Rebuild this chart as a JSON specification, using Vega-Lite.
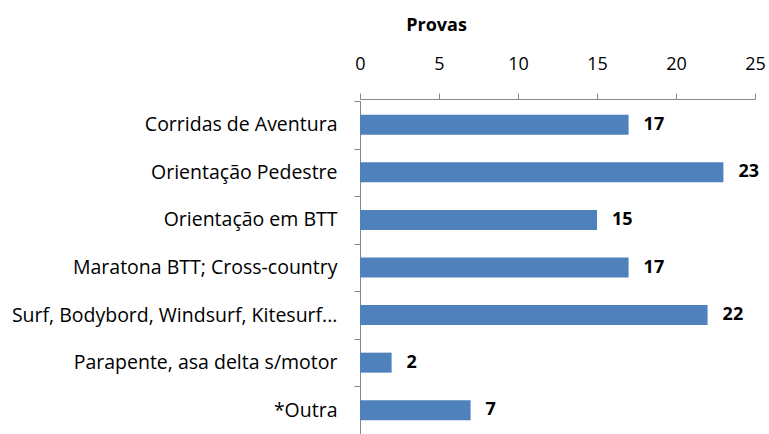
{
  "$schema": "https://vega.github.io/schema/vega-lite/v6.json",
  "autosize": {"type": "none"},
  "padding": {"left": 360, "top": 101, "right": 14, "bottom": 0},
  "width": 395,
  "height": 333,
  "background": "white",
  "config": {"view": {"stroke": null}, "font": "Open Sans"},
  "data": {"values": [
    {"categoria": "Corridas de Aventura", "provas": 17},
    {"categoria": "Orientação Pedestre", "provas": 23},
    {"categoria": "Orientação em BTT", "provas": 15},
    {"categoria": "Maratona BTT; Cross-country", "provas": 17},
    {"categoria": "Surf, Bodybord, Windsurf, Kitesurf...", "provas": 22},
    {"categoria": "Parapente, asa delta s/motor", "provas": 2},
    {"categoria": "*Outra", "provas": 7}
  ]},
  "encoding": {
    "y": {
      "field": "categoria", "type": "nominal", "sort": null,
      "scale": {"paddingInner": 0, "paddingOuter": 0},
      "axis": {
        "title": null, "domainColor": "#868686", "tickColor": "#868686",
        "tickBand": "extent", "tickSize": 6, "labelPadding": 17,
        "labelFontSize": 19.5, "labelColor": "#000000", "labelLimit": 400
      }
    },
    "x": {
      "field": "provas", "type": "quantitative",
      "scale": {"domain": [0, 25], "nice": false},
      "axis": {
        "orient": "top", "offset": 2, "title": "Provas", "values": [0, 5, 10, 15, 20, 25],
        "grid": false, "domainColor": "#868686", "tickColor": "#868686",
        "tickSize": 6, "labelPadding": 20, "labelFontSize": 18, "labelColor": "#000000",
        "titleFontSize": 18, "titleFontWeight": "bold", "titleColor": "#000000",
        "titleX": 76, "titleY": -74, "titleAlign": "center", "titleBaseline": "middle",
        "labelFlush": false
      }
    }
  },
  "layer": [
    {"mark": {"type": "bar", "color": "#4F81BD", "height": {"band": 0.42}}},
    {
      "mark": {"type": "text", "align": "left", "dx": 15, "fontWeight": "bold", "fontSize": 18, "color": "#000000"},
      "encoding": {"text": {"field": "provas", "type": "quantitative"}}
    }
  ]
}
